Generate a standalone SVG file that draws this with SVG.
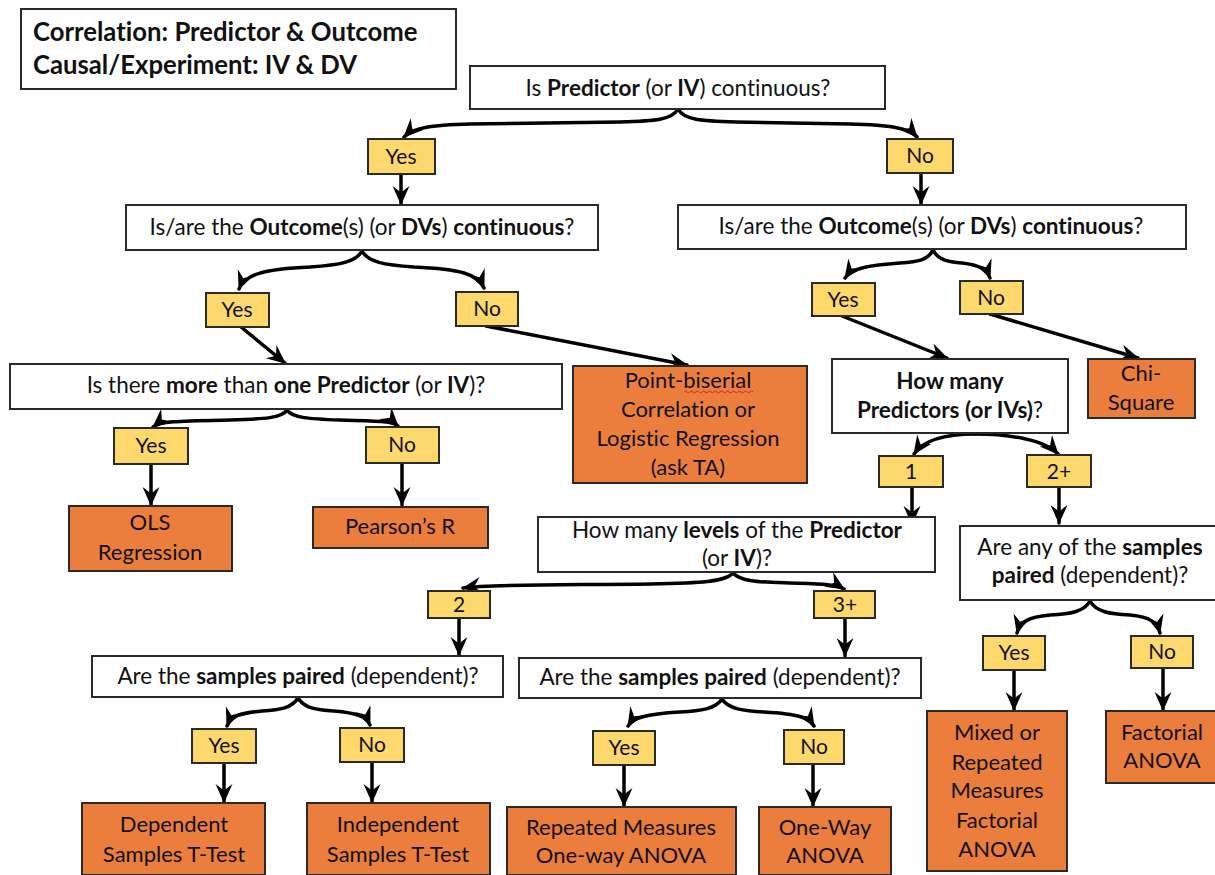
<svg xmlns="http://www.w3.org/2000/svg" width="1215" height="875" viewBox="0 0 1215 875">
<style>
text{font-family:Lato,"Liberation Sans",sans-serif;fill:#111;text-anchor:middle;font-variant-ligatures:none}
.q{fill:#fff;stroke:#2a2a2a;stroke-width:2}
.y{fill:#FDD86C;stroke:#2a2a2a;stroke-width:2}
.o{fill:#EB7E3C;stroke:#2a2a2a;stroke-width:2}
.tq{font-size:22.5px}
.ty{font-size:21px}
.to{font-size:22px}
.th{font-size:25.7px;font-weight:700;text-anchor:start}
.b{font-weight:700}
.c{fill:none;stroke:#000;stroke-width:3.5;stroke-linecap:round;marker-end:url(#ah)}
</style>
<defs>
<marker id="ah" markerUnits="userSpaceOnUse" markerWidth="19" markerHeight="19" viewBox="0 0 18 18" refX="17" refY="9" orient="auto">
<path d="M0,1 L18,9 L0,17 L6,9 z" fill="#000"/>
</marker>
</defs>
<rect width="1215" height="875" fill="#fff"/>

<g id="connectors">
<path class="c" d="M678,109 C672,120 655,121 620,122 L470,124 C430,125 413,128 404,137"/>
<path class="c" d="M678,109 C684,120 701,121 736,122 L850,124 C890,125 909,128 917,137"/>
<path class="c" d="M401,175 L401,204"/>
<path class="c" d="M921,173 L921,204"/>
<path class="c" d="M362,251 C356,262 340,265 310,267 C265,269 245,274 239,289"/>
<path class="c" d="M362,251 C368,262 384,265 414,267 C460,269 478,274 484,288"/>
<path class="c" d="M933,250 C928,260 918,262 900,263 C870,265 852,268 845,278"/>
<path class="c" d="M933,250 C938,260 948,262 962,263 C980,265 987,270 990,278"/>
<path class="c" d="M241,327 L285,363"/>
<path class="c" d="M486,326 L687,365"/>
<path class="c" d="M842,316 L947,358"/>
<path class="c" d="M990,314 L1138,358"/>
<path class="c" d="M287,410 C282,418 265,419 230,420 C180,421 160,421 153,427"/>
<path class="c" d="M287,410 C292,418 310,419 340,420 C380,421 393,421 398,426"/>
<path class="c" d="M151,464 L151,505"/>
<path class="c" d="M402,463 L402,505"/>
<path class="c" d="M975,434 C950,434 925,438 914,454"/>
<path class="c" d="M975,434 C1010,434 1045,440 1058,454"/>
<path class="c" d="M912,487 L912,524"/>
<path class="c" d="M1059,487 L1059,523"/>
<path class="c" d="M733,573 C725,582 700,583 650,584 C560,585 490,584 463,588"/>
<path class="c" d="M733,573 C741,582 760,582 790,583 C820,584 836,584 844,589"/>
<path class="c" d="M459,618 L459,655"/>
<path class="c" d="M845,618 L845,656"/>
<path class="c" d="M1090,601 C1084,612 1070,614 1050,615 C1028,617 1020,622 1017,633"/>
<path class="c" d="M1090,601 C1096,612 1110,614 1130,615 C1150,617 1157,622 1160,633"/>
<path class="c" d="M298,698 C292,708 280,710 262,711 C240,713 231,716 227,726"/>
<path class="c" d="M298,698 C304,708 316,710 334,711 C356,713 366,716 370,725"/>
<path class="c" d="M722,699 C716,709 700,711 680,712 C645,714 633,718 628,726"/>
<path class="c" d="M722,699 C728,709 744,711 764,712 C800,714 809,718 814,726"/>
<path class="c" d="M224,763 L224,802"/>
<path class="c" d="M372,762 L372,802"/>
<path class="c" d="M624,765 L624,806"/>
<path class="c" d="M813,764 L813,806"/>
<path class="c" d="M1014,670 L1014,710"/>
<path class="c" d="M1163,668 L1163,710"/>
</g>

<g id="header"><rect class="q" x="21" y="9" width="435" height="80"/>
<text class="th" x="33" y="41">Correlation: Predictor &amp; Outcome</text>
<text class="th" x="33" y="74">Causal/Experiment: IV &amp; DV</text></g>

<g id="q1"><rect class="q" x="470" y="66" width="415" height="43"/>
<text class="tq" x="678" y="96">Is <tspan class="b">Predictor</tspan> (or <tspan class="b">IV</tspan>) continuous?</text></g>

<g id="yes1"><rect class="y" x="368" y="139" width="67" height="35"/><text class="ty" x="401" y="164">Yes</text></g>
<g id="no1"><rect class="y" x="887" y="139" width="66" height="34"/><text class="ty" x="920" y="163">No</text></g>

<g id="q2l"><rect class="q" x="126" y="205" width="472" height="45"/>
<text class="tq" x="362" y="235">Is/are the <tspan class="b">Outcome</tspan>(s) (or <tspan class="b">DVs</tspan>) <tspan class="b">continuous</tspan>?</text></g>
<g id="q2r"><rect class="q" x="678" y="205" width="508" height="44"/>
<text class="tq" x="931" y="234">Is/are the <tspan class="b">Outcome</tspan>(s) (or <tspan class="b">DVs</tspan>) <tspan class="b">continuous</tspan>?</text></g>

<g id="yes2l"><rect class="y" x="206" y="293" width="63" height="34"/><text class="ty" x="237" y="317">Yes</text></g>
<g id="no2l"><rect class="y" x="456" y="292" width="62" height="34"/><text class="ty" x="487" y="316">No</text></g>
<g id="yes2r"><rect class="y" x="812" y="283" width="63" height="33"/><text class="ty" x="843" y="307">Yes</text></g>
<g id="no2r"><rect class="y" x="960" y="281" width="63" height="33"/><text class="ty" x="991" y="305">No</text></g>

<g id="q3l"><rect class="q" x="10" y="364" width="552" height="45"/>
<text class="tq" x="286" y="393">Is there <tspan class="b">more</tspan> than <tspan class="b">one Predictor</tspan> (or <tspan class="b">IV</tspan>)?</text></g>

<g id="pointbiserial"><rect class="o" x="573" y="366" width="234" height="117"/>
<text class="to" x="688" y="388">Point-biserial</text>
<text class="to" x="688" y="417">Correlation or</text>
<text class="to" x="688" y="446">Logistic Regression</text>
<text class="to" x="688" y="475">(ask TA)</text>
<path d="M684,392 q1.5,-2 3,0 t3,0 t3,0 t3,0 t3,0 t3,0 t3,0 t3,0 t3,0 t3,0 t3,0 t3,0 t3,0 t3,0 t3,0 t3,0 t3,0 t3,0 t3,0 t3,0 t3,0 t3,0 t3,0" fill="none" stroke="#d23" stroke-width="1"/></g>

<g id="howmany"><rect class="q" x="832" y="359" width="236" height="74"/>
<text class="tq b" x="950" y="389">How many</text>
<text class="tq" x="950" y="418"><tspan class="b">Predictors (or IVs)</tspan>?</text></g>

<g id="chisquare"><rect class="o" x="1088" y="359" width="107" height="59"/>
<text class="to" x="1141" y="381">Chi-</text>
<text class="to" x="1141" y="410">Square</text></g>

<g id="yes3l"><rect class="y" x="114" y="428" width="74" height="36"/><text class="ty" x="151" y="453">Yes</text></g>
<g id="no3l"><rect class="y" x="366" y="427" width="73" height="36"/><text class="ty" x="402" y="452">No</text></g>

<g id="ols"><rect class="o" x="69" y="506" width="163" height="65"/>
<text class="to" x="150" y="530">OLS</text>
<text class="to" x="150" y="560">Regression</text></g>
<g id="pearson"><rect class="o" x="313" y="507" width="175" height="41"/>
<text class="to" x="400" y="534">Pearson’s R</text></g>

<g id="one"><rect class="y" x="879" y="456" width="64" height="31"/><text class="ty" x="911" y="479">1</text></g>
<g id="twoplus"><rect class="y" x="1027" y="455" width="64" height="32"/><text class="ty" x="1059" y="479">2+</text></g>

<g id="levels"><rect class="q" x="538" y="517" width="397" height="55"/>
<text class="tq" x="737" y="538">How many <tspan class="b">levels</tspan> of the <tspan class="b">Predictor</tspan></text>
<text class="tq" x="737" y="566">(or <tspan class="b">IV</tspan>)?</text></g>

<g id="anypaired"><rect class="q" x="960" y="526" width="260" height="74"/>
<text class="tq" x="1090" y="555">Are any of the <tspan class="b">samples</tspan></text>
<text class="tq" x="1090" y="583"><tspan class="b">paired</tspan> (dependent)?</text></g>

<g id="two"><rect class="y" x="428" y="591" width="62" height="27"/><text class="ty" x="459" y="612">2</text></g>
<g id="threeplus"><rect class="y" x="814" y="591" width="61" height="27"/><text class="ty" x="845" y="612">3+</text></g>

<g id="pairedl"><rect class="q" x="92" y="656" width="411" height="41"/>
<text class="tq" x="298" y="684">Are the <tspan class="b">samples paired</tspan> (dependent)?</text></g>
<g id="pairedm"><rect class="q" x="519" y="658" width="402" height="40"/>
<text class="tq" x="720" y="685">Are the <tspan class="b">samples paired</tspan> (dependent)?</text></g>

<g id="yesrr"><rect class="y" x="983" y="636" width="62" height="34"/><text class="ty" x="1014" y="660">Yes</text></g>
<g id="norr"><rect class="y" x="1131" y="636" width="62" height="32"/><text class="ty" x="1162" y="659">No</text></g>

<g id="yes4l"><rect class="y" x="192" y="729" width="64" height="34"/><text class="ty" x="224" y="753">Yes</text></g>
<g id="no4l"><rect class="y" x="340" y="728" width="64" height="34"/><text class="ty" x="372" y="752">No</text></g>
<g id="yes4m"><rect class="y" x="593" y="731" width="62" height="34"/><text class="ty" x="624" y="755">Yes</text></g>
<g id="no4m"><rect class="y" x="784" y="730" width="60" height="34"/><text class="ty" x="814" y="754">No</text></g>

<g id="mixed"><rect class="o" x="927" y="711" width="140" height="160"/>
<text class="to" x="997" y="740">Mixed or</text>
<text class="to" x="997" y="770">Repeated</text>
<text class="to" x="997" y="798">Measures</text>
<text class="to" x="997" y="828">Factorial</text>
<text class="to" x="997" y="857">ANOVA</text></g>
<g id="factorial"><rect class="o" x="1106" y="711" width="114" height="72"/>
<text class="to" x="1162" y="740">Factorial</text>
<text class="to" x="1162" y="768">ANOVA</text></g>

<g id="dependent"><rect class="o" x="82" y="803" width="183" height="72"/>
<text class="to" x="174" y="832">Dependent</text>
<text class="to" x="174" y="862">Samples T-Test</text></g>
<g id="independent"><rect class="o" x="307" y="803" width="183" height="72"/>
<text class="to" x="398" y="832">Independent</text>
<text class="to" x="398" y="862">Samples T-Test</text></g>
<g id="rmanova"><rect class="o" x="507" y="807" width="229" height="68"/>
<text class="to" x="621" y="835">Repeated Measures</text>
<text class="to" x="621" y="863">One-way ANOVA</text></g>
<g id="onewayanova"><rect class="o" x="759" y="807" width="132" height="68"/>
<text class="to" x="825" y="835">One-Way</text>
<text class="to" x="825" y="863">ANOVA</text></g>
</svg>
